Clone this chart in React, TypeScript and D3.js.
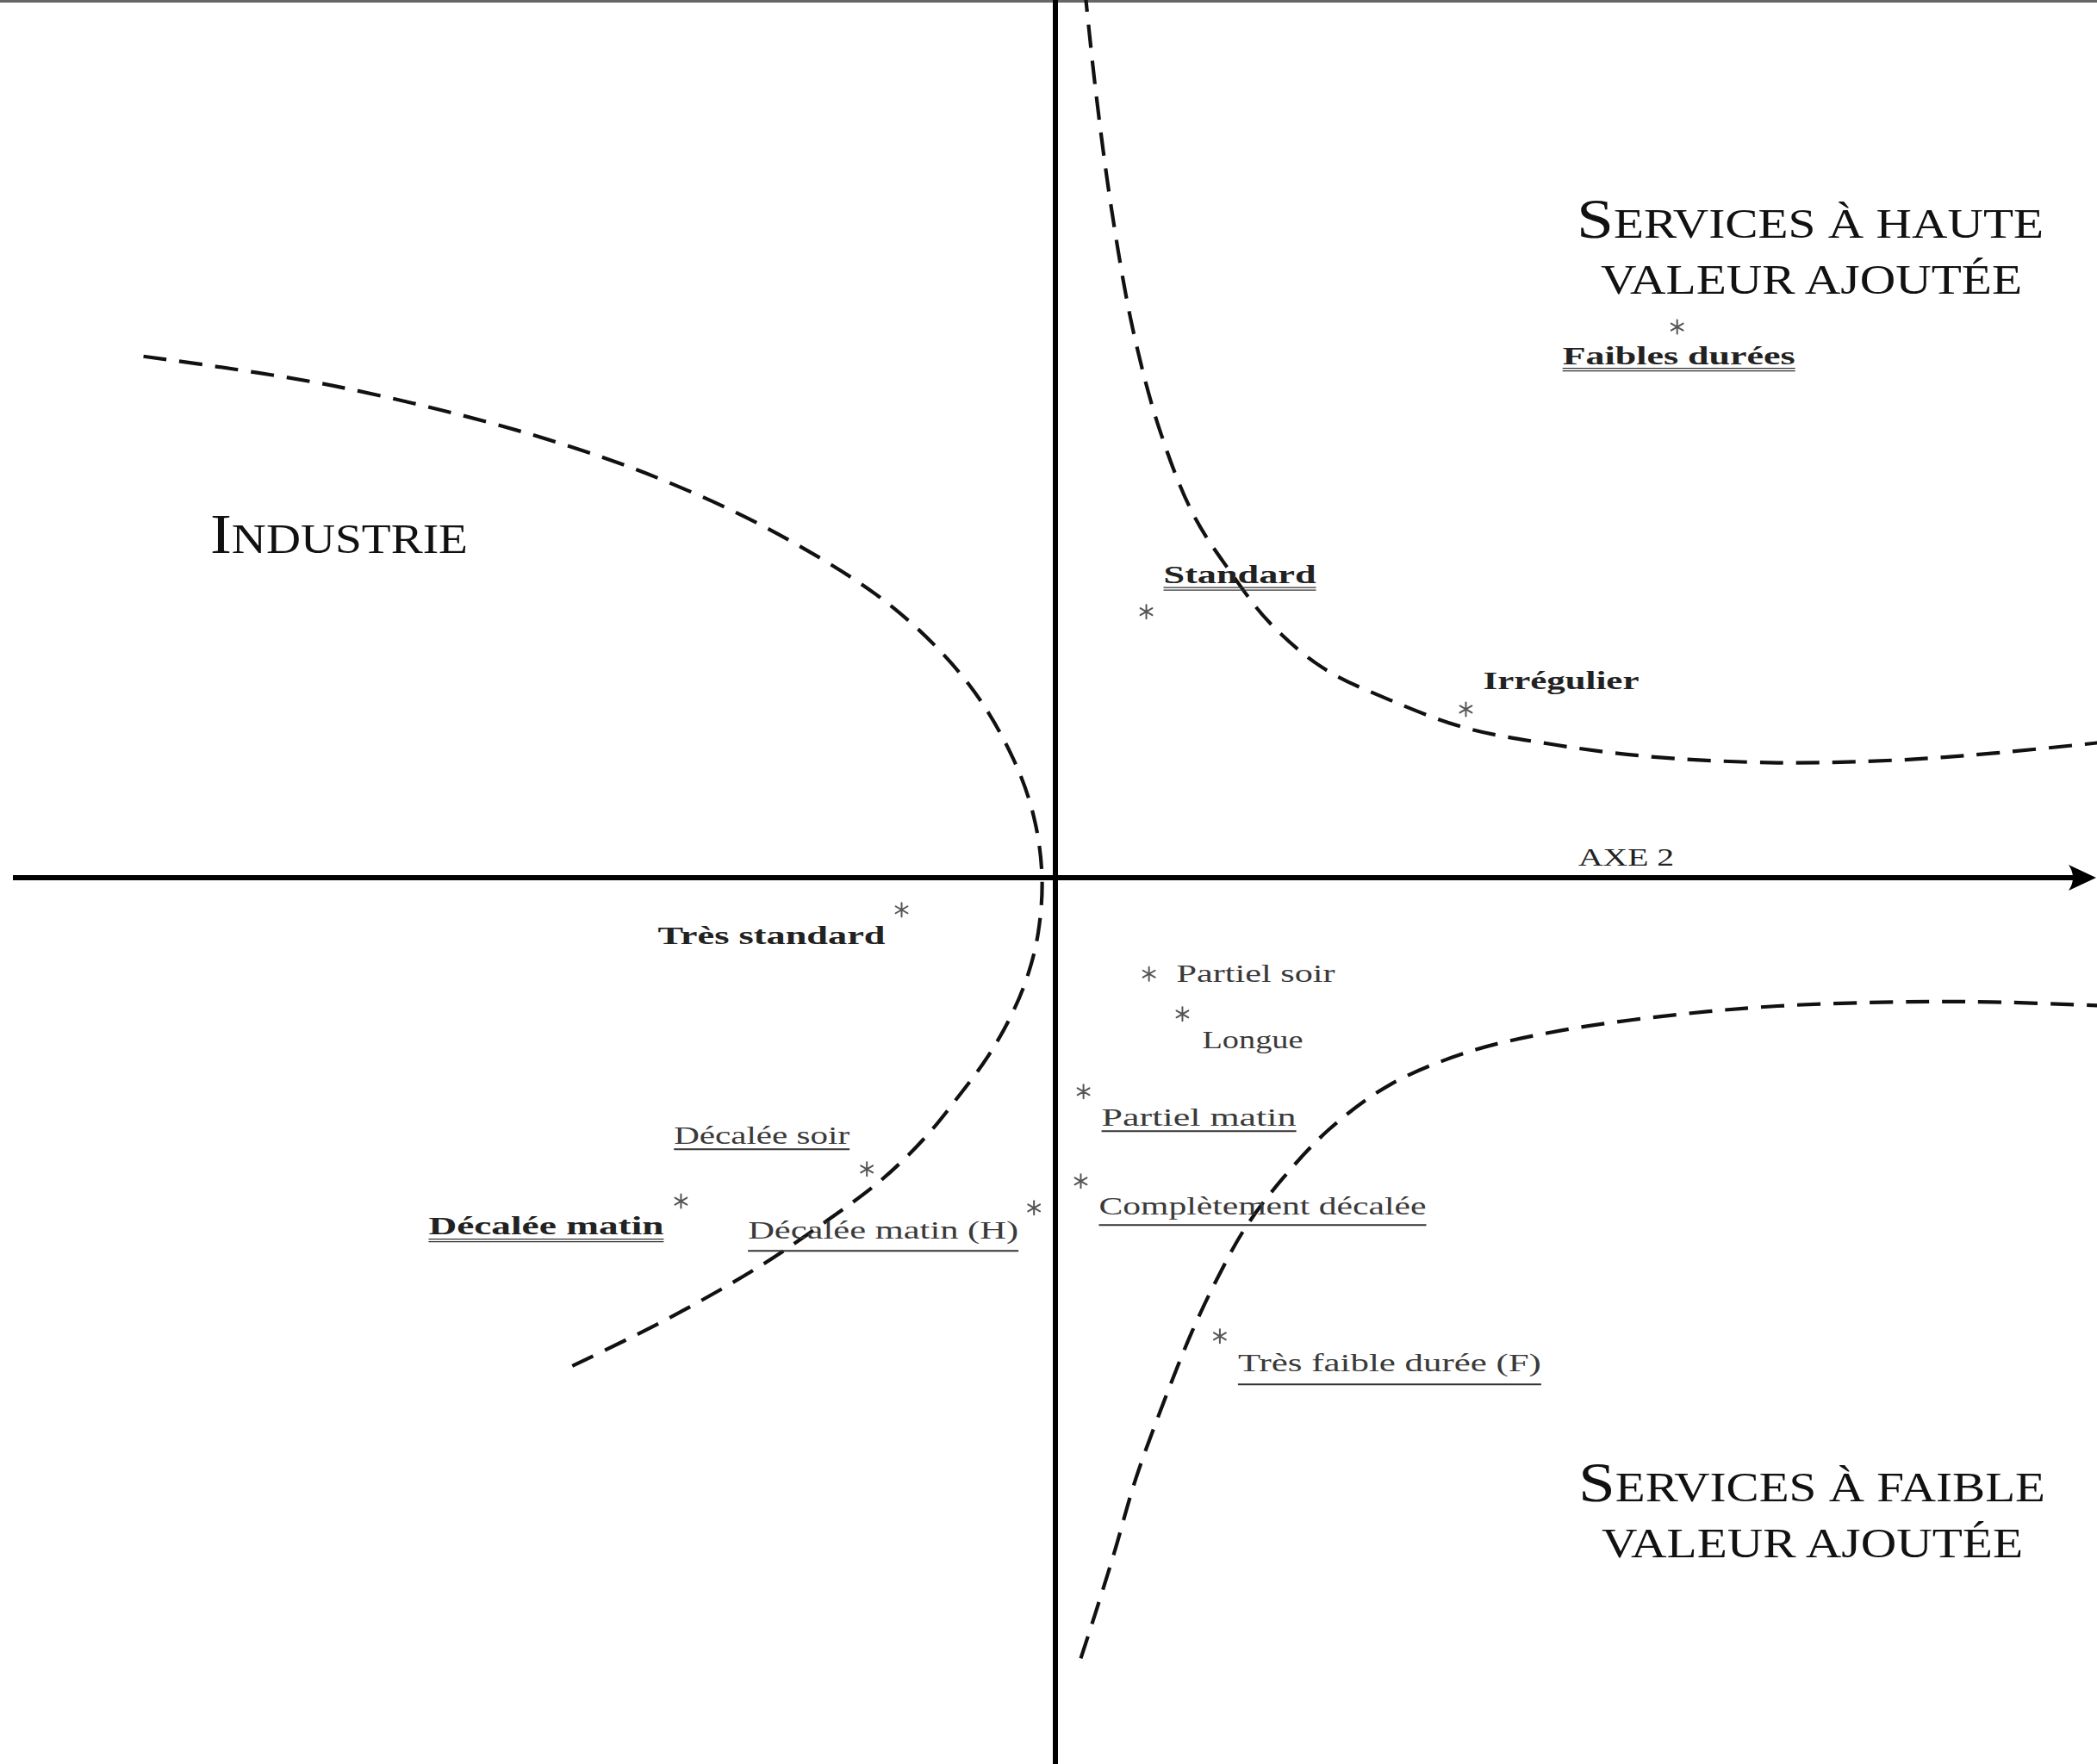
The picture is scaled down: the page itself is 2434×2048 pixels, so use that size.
import React, { useEffect, useRef } from "react";
import * as d3 from "d3";

const W = 2434;
const H = 2048;

// factorial plane : horizontal = axe 2, vertical = axe 1
const modalities = [
  "Faibles durées",
  "Standard",
  "Irrégulier",
  "Très standard",
  "Partiel soir",
  "Longue",
  "Partiel matin",
  "Complètement décalée",
  "Décalée soir",
  "Décalée matin",
  "Décalée matin (H)",
  "Très faible durée (F)",
];
const axe2 = [4.65, 0.68, 3.07, -1.15, 0.7, 0.95, 0.21, 0.19, -1.41, -2.8, -0.16, 1.23];
const axe1 = [4.12, 1.99, 1.26, -0.24, -0.72, -1.02, -1.6, -2.27, -2.18, -2.42, -2.47, -3.43];

// dashed boundaries between the groups (axe 2, axe 1)
const industrieBoundary: [number, number][] = [
  [-6.82, 3.9], [-5.4, 3.68], [-3.9, 3.31], [-2.9, 2.96], [-2.0, 2.53], [-1.2, 2.01],
  [-0.65, 1.45], [-0.32, 0.9], [-0.16, 0.45], [-0.1, 0.0], [-0.13, -0.42], [-0.21, -0.74],
  [-0.33, -1.03], [-0.5, -1.33], [-0.72, -1.63], [-0.98, -1.95], [-1.3, -2.26],
  [-1.7, -2.56], [-2.2, -2.9], [-2.9, -3.3], [-3.69, -3.69],
];
const hauteValeurBoundary: [number, number][] = [
  [0.22, 6.65], [0.3, 5.9], [0.42, 5.0], [0.58, 4.1], [0.78, 3.35], [1.03, 2.72],
  [1.3, 2.3], [1.6, 1.91], [2.0, 1.57], [2.5, 1.33], [3.07, 1.12], [3.7, 1.0],
  [4.4, 0.91], [5.4, 0.86], [6.3, 0.88], [7.0, 0.93], [7.9, 1.02],
];
const faibleValeurBoundary: [number, number][] = [
  [0.19, -5.84], [0.3, -5.5], [0.44, -5.05], [0.6, -4.5], [0.8, -3.95], [1.02, -3.4],
  [1.22, -2.98], [1.42, -2.62], [1.7, -2.25], [2.05, -1.88], [2.5, -1.55], [3.1, -1.3],
  [3.8, -1.14], [4.6, -1.03], [5.4, -0.96], [6.3, -0.93], [7.0, -0.93], [7.9, -0.96],
];

const groupTitles = [["Industrie"], ["Services à haute", "valeur ajoutée"], ["Services à faible", "valeur ajoutée"]];
const axisTitle = "axe 2";

// label placement (pixels, relative to the asterisk)
const labelLayout = [
  { dx: -133, dy: 43, w: 270, bold: true, ul: [5, 8] },
  { dx: 20, dy: -33, w: 177, bold: true, ul: [5, 8] },
  { dx: 20, dy: -23, w: 181, bold: true, ul: [] },
  { dx: -283, dy: 40, w: 264, bold: true, ul: [] },
  { dx: 32, dy: 9, w: 184, bold: false, ul: [] },
  { dx: 23, dy: 40, w: 117, bold: false, ul: [] },
  { dx: 21, dy: 40, w: 226, bold: false, ul: [6] },
  { dx: 21, dy: 39, w: 380, bold: false, ul: [12] },
  { dx: -224, dy: -29, w: 204, bold: false, ul: [6] },
  { dx: -293, dy: 38, w: 273, bold: true, ul: [6, 9] },
  { dx: -332, dy: 36, w: 314, bold: false, ul: [14] },
  { dx: 21, dy: 41, w: 352, bold: false, ul: [15] },
];
const titleLayout = [
  [{ x: 244, y: 642, w: 299 }],
  [{ x: 1830, y: 276, w: 542 }, { x: 1858, y: 341, w: 489 }],
  [{ x: 1832, y: 1743, w: 542 }, { x: 1859, y: 1808, w: 489 }],
];

const FONT = "'Liberation Serif', 'DejaVu Serif', serif";
const X0 = 1225;
const Y0 = 1019;
const UNIT = 155.2;

// fake small caps: upper case letters large, lower case as small capitals
function smallCaps(sel, str, big, small) {
  let i = 0;
  while (i < str.length) {
    const up = str[i] !== str[i].toLowerCase();
    let j = i;
    while (j < str.length && (str[j] !== str[j].toLowerCase()) === up) j++;
    sel.append("tspan").attr("font-size", up ? big : small).text(str.slice(i, j).toUpperCase());
    i = j;
  }
}

const App = () => {
  const svgRef = useRef(null);

  useEffect(() => {
    const svg = d3.select(svgRef.current);
    svg.selectAll("*").remove();

    const x = d3.scaleLinear().domain([-1, 1]).range([X0 - UNIT, X0 + UNIT]);
    const y = d3.scaleLinear().domain([-1, 1]).range([Y0 + UNIT, Y0 - UNIT]);

    svg.append("rect").attr("width", W).attr("height", H).attr("fill", "#fff");

    // top frame line
    svg.append("line").attr("x1", 0).attr("x2", W).attr("y1", 1.5).attr("y2", 1.5)
      .attr("stroke", "#666").attr("stroke-width", 3);

    // boundaries
    const line = d3.line<[number, number]>()
      .x((d) => x(d[0]))
      .y((d) => y(d[1]))
      .curve(d3.curveCatmullRom.alpha(0.5));
    [industrieBoundary, hauteValeurBoundary, faibleValeurBoundary].forEach((pts) => {
      svg.append("path").attr("d", line(pts)).attr("fill", "none")
        .attr("stroke", "#111").attr("stroke-width", 4.2).attr("stroke-dasharray", "27 15");
    });

    // axes
    svg.append("line").attr("x1", x(0)).attr("x2", x(0)).attr("y1", 0).attr("y2", H)
      .attr("stroke", "#000").attr("stroke-width", 6);
    svg.append("line").attr("x1", 15).attr("x2", W - 20).attr("y1", y(0)).attr("y2", y(0))
      .attr("stroke", "#000").attr("stroke-width", 6);
    const tip = W - 1;
    const ay = y(0);
    svg.append("path")
      .attr("d", `M${tip},${ay} L${tip - 32},${ay - 15} Q${tip - 22},${ay} ${tip - 32},${ay + 15} Z`)
      .attr("fill", "#000");

    const axisText = svg.append("text").attr("x", 1832).attr("y", 1005)
      .attr("font-family", FONT).attr("fill", "#222")
      .attr("textLength", 111).attr("lengthAdjust", "spacingAndGlyphs");
    smallCaps(axisText, axisTitle, 30, 30);

    // group titles
    groupTitles.forEach((lines, gi) => {
      lines.forEach((str, li) => {
        const L = titleLayout[gi][li];
        const t = svg.append("text").attr("x", L.x).attr("y", L.y)
          .attr("font-family", FONT).attr("fill", "#111")
          .attr("textLength", L.w).attr("lengthAdjust", "spacingAndGlyphs");
        smallCaps(t, str, 66, 49);
      });
    });

    // modalities
    const star = d3.symbol().type(d3.symbolAsterisk).size(180);
    const g = svg.append("g");
    modalities.forEach((name, i) => {
      const px = x(axe2[i]);
      const py = y(axe1[i]);
      const L = labelLayout[i];
      g.append("path").attr("d", star()).attr("transform", `translate(${px},${py})`)
        .attr("fill", "none").attr("stroke", "#555").attr("stroke-width", 2)
        .attr("stroke-linecap", "round");
      const lx = px + L.dx;
      const ly = py + L.dy;
      g.append("text").attr("x", lx).attr("y", ly)
        .attr("font-family", FONT).attr("font-size", 30)
        .attr("font-weight", L.bold ? "bold" : "normal")
        .attr("fill", L.bold ? "#222" : "#3a3a3a")
        .attr("textLength", L.w).attr("lengthAdjust", "spacingAndGlyphs")
        .text(name);
      L.ul.forEach((off) => {
        g.append("line").attr("x1", lx).attr("x2", lx + L.w).attr("y1", ly + off).attr("y2", ly + off)
          .attr("stroke", "#333").attr("stroke-width", L.ul.length > 1 ? 1.4 : 2);
      });
    });
  }, []);

  return (
    <svg
      ref={svgRef}
      width={W}
      height={H}
      style={{ position: "absolute", left: 0, top: 0, display: "block" }}
    />
  );
};

export default App;
